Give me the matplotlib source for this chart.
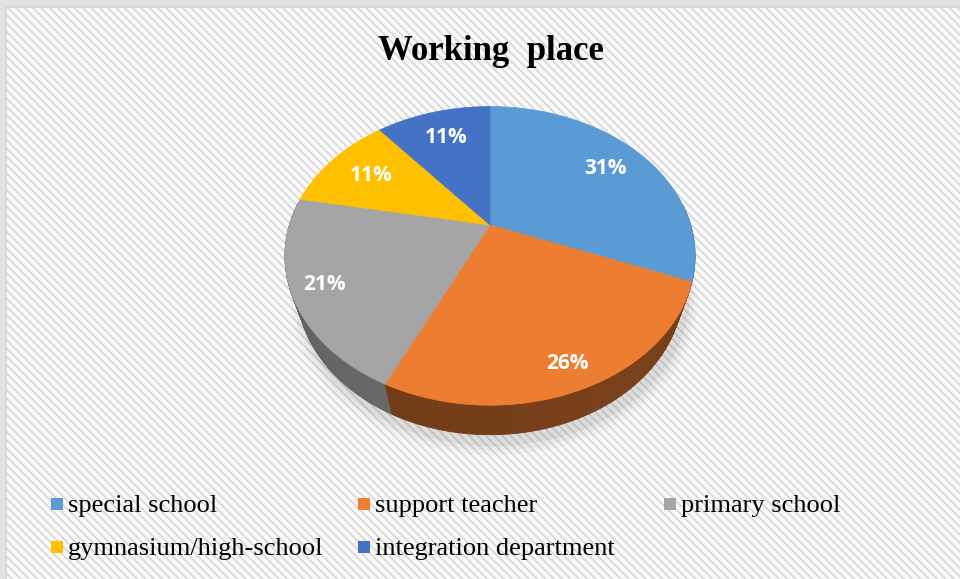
import numpy as np
import matplotlib
matplotlib.use("Agg")
import matplotlib.pyplot as plt
from matplotlib.patches import Polygon, Rectangle
from matplotlib.colors import to_rgb

labels = ["special school", "support teacher", "primary school",
          "gymnasium/high-school", "integration department"]
values = [31, 26, 21, 11, 11]
colors = ["#5B9BD5", "#ED7D31", "#A5A5A5", "#FFC000", "#4472C4"]
label_r = [0.76, 0.87, 0.85, 0.74, 0.74]   # how far out each % label sits

W, H = 960, 579
plt.rcParams["hatch.color"] = "#efefef"
plt.rcParams["hatch.linewidth"] = 1.2
fig = plt.figure(figsize=(9.6, 5.79), dpi=100)
ax = fig.add_axes([0, 0, 1, 1])
ax.set_xlim(0, W)
ax.set_ylim(H, 0)
ax.axis("off")

# background with faint diagonal texture
fig.patch.set_facecolor("#e2e2e2")
ax.add_patch(Rectangle((6, 7), W, H, facecolor="#f9f9f9", edgecolor="#d6d6d6",
                       lw=1.2, hatch="\\\\\\\\", zorder=0))

# simple perspective projection of a tilted disk
cx, cy = 490, 225
Fx, Fy, D, elev, thick = 662, 645, 3.3, np.radians(47), 0.27
se, ce = np.sin(elev), np.cos(elev)


def proj(theta, r=1.0, w=0.0):
    u = r * np.cos(theta)
    v = r * np.sin(theta)
    yc = v * se + w * ce
    zc = D + v * ce - w * se
    return cx + Fx * u / zc, cy - Fy * yc / zc


def shade(c, f):
    return tuple(np.clip(np.array(to_rgb(c)) * f, 0, 1))


total = float(sum(values))
bounds = [np.pi / 2]
for v in values:
    bounds.append(bounds[-1] - 2 * np.pi * v / total)

# soft shadow below the pie
t = np.linspace(0, 2 * np.pi, 200)
for k, a in enumerate([0.05, 0.035, 0.025]):
    sx, sy = proj(t, 1.0 + 0.02 * (k + 1), -thick - 0.03)
    ax.add_patch(Polygon(np.c_[sx + 4, sy + 4], closed=True, facecolor="black",
                         alpha=a, edgecolor="none", zorder=1))

# outer walls, drawn in thin strips so the shading can vary round the rim
strips = []
for i in range(len(values)):
    t = np.linspace(bounds[i], bounds[i + 1], 120)
    for a, b in zip(t[:-1], t[1:]):
        mid = 0.5 * (a + b)
        if np.sin(mid) > 0.15:
            continue
        x1, y1 = proj(np.array([a, b]))
        x2, y2 = proj(np.array([b, a]), w=-thick)
        light = 0.45 + 0.06 * np.cos(mid + 0.9)
        if colors[i] == "#A5A5A5":
            light += 0.15
        strips.append((np.sin(mid), np.c_[np.r_[x1, x2], np.r_[y1, y2]],
                       shade(colors[i], light)))
for _, pts, col in sorted(strips, key=lambda s: -s[0]):
    ax.add_patch(Polygon(pts, closed=True, facecolor=col, edgecolor=col,
                         lw=0.6, zorder=2))

# top faces
for i in range(len(values)):
    t = np.linspace(bounds[i], bounds[i + 1], 150)
    x, y = proj(t)
    pts = np.r_[[[cx, cy]], np.c_[x, y]]
    ax.add_patch(Polygon(pts, closed=True, facecolor=colors[i],
                         edgecolor=colors[i], lw=0.5, zorder=3))

# percentage labels
for i, v in enumerate(values):
    mid = 0.5 * (bounds[i] + bounds[i + 1])
    lx, ly = proj(mid, label_r[i])
    ax.text(lx, ly, f"{v}%", color="white", fontsize=15, fontweight="bold",
            family="Open Sans", ha="center", va="center", zorder=5)

ax.text(491, 60, "Working  place", fontsize=25, fontweight="bold",
        family="Liberation Serif", ha="center", va="baseline", zorder=5)

# legend, 3 columns x 2 rows
col_x = [68, 375, 681]
row_y = [512, 555]
for k, (lab, col) in enumerate(zip(labels, colors)):
    lx, ly = col_x[k % 3], row_y[k // 3]
    ax.add_patch(Rectangle((lx - 17, ly - 14), 12, 12, facecolor=col,
                           edgecolor="none", zorder=5))
    ax.text(lx, ly, lab, fontsize=19, family="Liberation Serif",
            ha="left", va="baseline", zorder=5)

fig.savefig("out.png", dpi=100)
